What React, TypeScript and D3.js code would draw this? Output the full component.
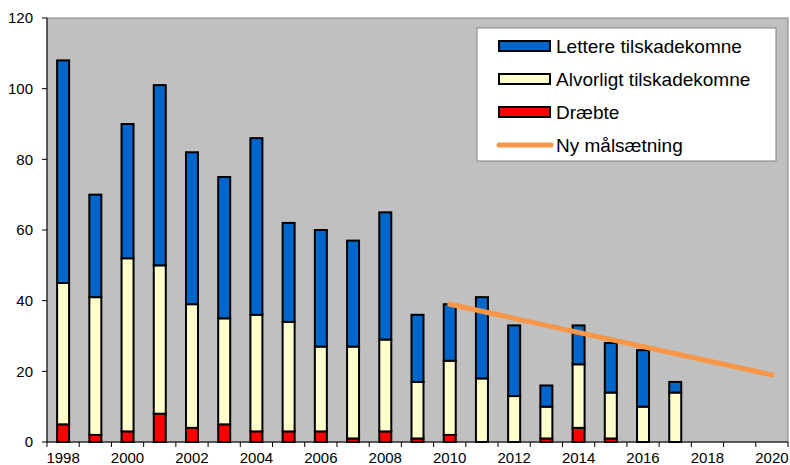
import * as React from 'react';
import { useEffect } from 'react';
import * as d3 from 'd3';

// years on the category axis (bars exist up to 2017)
const years = d3.range(1998, 2021).map(String);
const barYears = [
  '1998', '1999', '2000', '2001', '2002', '2003', '2004', '2005', '2006', '2007',
  '2008', '2009', '2010', '2011', '2012', '2013', '2014', '2015', '2016', '2017',
];
const draebte = [5, 2, 3, 8, 4, 5, 3, 3, 3, 1, 3, 1, 2, 0, 0, 1, 4, 1, 0, 0];
const alvorligt = [40, 39, 49, 42, 35, 30, 33, 31, 24, 26, 26, 16, 21, 18, 13, 9, 18, 13, 10, 14];
const lettere = [63, 29, 38, 51, 43, 40, 50, 28, 33, 30, 36, 19, 16, 23, 20, 6, 11, 14, 16, 3];

// goal line: start and end points
const maalYears = ['2010', '2020'];
const maalValues = [39, 19];

const yTicks = [0, 20, 40, 60, 80, 100, 120];
const xLabels = ['1998', '2000', '2002', '2004', '2006', '2008', '2010', '2012', '2014', '2016', '2018', '2020'];

const series = [
  { key: 'draebte', name: 'Dræbte', values: draebte, color: '#FF0000' },
  { key: 'alvorligt', name: 'Alvorligt tilskadekomne', values: alvorligt, color: '#FFFFCC' },
  { key: 'lettere', name: 'Lettere tilskadekomne', values: lettere, color: '#0066CC' },
];

const W = 790;
const H = 465;
const left = 47;
const right = 788;
const top = 18;
const bottom = 442;
const font = 'Arial, "Liberation Sans", sans-serif';

export default function App() {
  useEffect(() => {
    document.body.style.margin = '0';
  }, []);

  const x = d3.scaleBand<string>().domain(years).range([left, right]);
  const y = d3.scaleLinear().domain([0, 120]).range([bottom, top]);
  const cx = (yr: string) => (x(yr) as number) + x.bandwidth() / 2;
  const barW = 12;

  const rows = barYears.map((yr, i) => {
    const r: any = { year: yr };
    series.forEach((s) => (r[s.key] = s.values[i]));
    return r;
  });
  const stacked = d3.stack<any>().keys(series.map((s) => s.key))(rows);

  const line = d3.line<number>()
    .x((_, i) => cx(maalYears[i]))
    .y((d) => y(d));

  const legendItems = [
    { name: 'Lettere tilskadekomne', color: '#0066CC', type: 'bar' },
    { name: 'Alvorligt tilskadekomne', color: '#FFFFCC', type: 'bar' },
    { name: 'Dræbte', color: '#FF0000', type: 'bar' },
    { name: 'Ny målsætning', color: '#F79646', type: 'line' },
  ];
  const legX = 477;
  const legY = 28;

  return (
    <svg width={W} height={H} style={{ display: 'block', fontFamily: font }}>
      <rect x={0} y={0} width={W} height={H} fill="#fff" />
      <rect x={left} y={top} width={right - left} height={bottom - top} fill="#C0C0C0" stroke="#808080" strokeWidth={1} />

      {/* y axis */}
      <line x1={left} x2={left} y1={top} y2={bottom} stroke="#000" />
      {yTicks.map((t) => (
        <g key={t}>
          <line x1={left - 5} x2={left} y1={y(t)} y2={y(t)} stroke="#000" />
          <text x={33} y={y(t)} dy="0.36em" textAnchor="end" fontSize={15} fill="#000">{t}</text>
        </g>
      ))}

      {/* x axis */}
      <line x1={left} x2={right} y1={bottom} y2={bottom} stroke="#000" />
      {years.concat(['end']).map((yr, i) => {
        const xx = i < years.length ? (x(yr) as number) : right;
        return <line key={yr} x1={xx} x2={xx} y1={bottom} y2={bottom + 5} stroke="#000" />;
      })}
      {xLabels.map((yr) => (
        <text key={yr} x={cx(yr)} y={463} textAnchor="middle" fontSize={15} fill="#000">{yr}</text>
      ))}

      {/* bars */}
      {stacked.map((layer, li) => (
        <g key={layer.key}>
          {layer.map((d, i) => {
            if (d[1] - d[0] <= 0) return null;
            return (
              <rect
                key={i}
                x={cx(d.data.year) - barW / 2}
                y={y(d[1])}
                width={barW}
                height={y(d[0]) - y(d[1])}
                fill={series[li].color}
                stroke="#000"
                strokeWidth={2}
              />
            );
          })}
        </g>
      ))}

      {/* goal line */}
      <path d={line(maalValues) as string} fill="none" stroke="#F79646" strokeWidth={5} strokeLinecap="round" />

      {/* legend */}
      <rect x={legX} y={legY} width={299} height={133} fill="#fff" stroke="#808080" strokeWidth={1} />
      {legendItems.map((it, i) => {
        const ry = 46 + i * 33;
        return (
          <g key={it.name}>
            {it.type === 'bar' ? (
              <rect x={499} y={ry - 5} width={51} height={10} fill={it.color} stroke="#000" strokeWidth={2} />
            ) : (
              <line x1={499} x2={551} y1={ry} y2={ry} stroke={it.color} strokeWidth={5} strokeLinecap="round" />
            )}
            <text x={556} y={ry} dy="0.36em" fontSize={19} fill="#000">{it.name}</text>
          </g>
        );
      })}
    </svg>
  );
}
